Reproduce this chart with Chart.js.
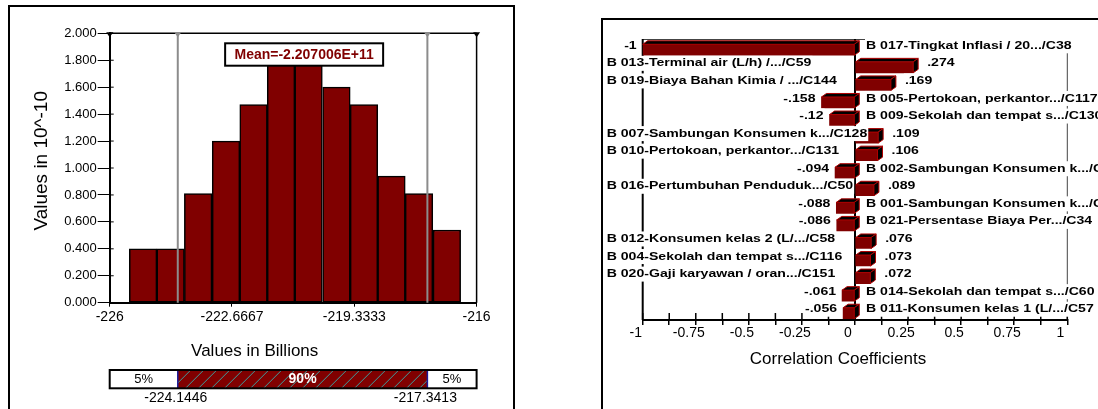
<!DOCTYPE html>
<html><head><meta charset="utf-8">
<script src="https://cdn.jsdelivr.net/npm/chart.js@4/dist/chart.umd.min.js"></script>
<style>
html,body{margin:0;padding:0;background:#fff;overflow:hidden;width:1098px;height:409px;}
.frame{position:absolute;border:2px solid #000;box-sizing:border-box;}
.wrap{position:absolute;top:0;height:409px;}
</style></head><body>
<div class="frame" style="left:8px;top:5px;width:507px;height:430px"></div>
<div class="frame" style="left:601px;top:18px;width:600px;height:430px"></div>
<div class="wrap" style="left:0;width:520px"><canvas id="hist"></canvas></div>
<div class="wrap" style="left:520px;width:578px"><canvas id="torn"></canvas></div>
<script>
// ---------- Histogram data ----------
const binCenters = [-225.09, -224.34, -223.59, -222.83, -222.08, -221.33, -220.58, -219.82, -219.07, -218.32, -217.57, -216.81];
const binDensity = [0.40, 0.40, 0.81, 1.20, 1.47, 1.80, 1.79, 1.60, 1.47, 0.94, 0.81, 0.54];
const histTickValues = [-226, -222.6667, -219.3333, -216];
const histTickLabels = ['-226', '-222.6667', '-219.3333', '-216'];
const pctValues = [-224.1446, -217.3413];
const pctLabels = ['-224.1446', '-217.3413'];
const bandLabels = ['5%', '90%', '5%'];
const meanValue = -220.7006;
const meanLabel = 'Mean=-2.207006E+11';
const histXTitle = 'Values in Billions';
const histYTitle = 'Values in 10^-10';

// ---------- Tornado data ----------
const tornadoNames = [
  'B 017-Tingkat Inflasi / 20.../C38',
  'B 013-Terminal air (L/h) /.../C59',
  'B 019-Biaya Bahan Kimia / .../C144',
  'B 005-Pertokoan, perkantor.../C117',
  'B 009-Sekolah dan tempat s.../C130',
  'B 007-Sambungan Konsumen k.../C128',
  'B 010-Pertokoan, perkantor.../C131',
  'B 002-Sambungan Konsumen k.../C114',
  'B 016-Pertumbuhan Penduduk.../C50',
  'B 001-Sambungan Konsumen k.../C113',
  'B 021-Persentase Biaya Per.../C34',
  'B 012-Konsumen kelas 2 (L/.../C58',
  'B 004-Sekolah dan tempat s.../C116',
  'B 020-Gaji karyawan / oran.../C151',
  'B 014-Sekolah dan tempat s.../C60',
  'B 011-Konsumen kelas 1 (L/.../C57'
];
const tornadoValues = [-1, 0.274, 0.169, -0.158, -0.12, 0.109, 0.106, -0.094, 0.089, -0.088, -0.086, 0.076, 0.073, 0.072, -0.061, -0.056];
const corrTickValues = [-1, -0.75, -0.5, -0.25, 0, 0.25, 0.5, 0.75, 1];
const corrTickLabels = ['-1', '-0.75', '-0.5', '-0.25', '0', '0.25', '0.5', '0.75', '1'];
const corrTitle = 'Correlation Coefficients';

const FAM = "'Liberation Sans', Arial, sans-serif";
Chart.defaults.font.family = FAM;
Chart.defaults.color = '#000';

function sText(ctx, text, x, y, align, font, sx, color, bg) {
  ctx.save();
  ctx.font = font;
  const w = ctx.measureText(text).width * sx;
  const left = align === 'left' ? x : (align === 'right' ? x - w : x - w / 2);
  if (bg) { ctx.fillStyle = bg; ctx.fillRect(left - 1, y - 7.5, w + 2, 15); }
  ctx.translate(left, y);
  ctx.scale(sx, 1);
  ctx.fillStyle = color;
  ctx.textBaseline = 'middle';
  ctx.textAlign = 'left';
  ctx.fillText(text, 0, 0);
  ctx.restore();
  return w;
}
function seg(ctx, x1, y1, x2, y2) { ctx.beginPath(); ctx.moveTo(x1, y1); ctx.lineTo(x2, y2); ctx.stroke(); }
function tri(ctx, x, y, color) {
  ctx.fillStyle = color;
  ctx.beginPath(); ctx.moveTo(x - 3.5, y - 1); ctx.lineTo(x + 3.5, y - 1); ctx.lineTo(x, y + 4); ctx.closePath(); ctx.fill();
}

const histPlugin = {
  id: 'histExtras',
  afterDatasetsDraw(chart) {
    const { ctx, chartArea: a, scales: { x, y } } = chart;
    ctx.save();
    ctx.strokeStyle = '#000'; ctx.lineWidth = 1;
    y.ticks.forEach(t => { const py = y.getPixelForValue(t.value); seg(ctx, a.left, py, a.left + 4, py); });
    ctx.lineWidth = 1.5;
    seg(ctx, a.left, a.top, a.right, a.top);
    seg(ctx, a.right, a.top, a.right, a.bottom);
    const p5 = x.getPixelForValue(pctValues[0]), p95 = x.getPixelForValue(pctValues[1]);
    ctx.strokeStyle = '#8c8c8c'; ctx.lineWidth = 2;
    seg(ctx, p5, a.top, p5, a.bottom);
    seg(ctx, p95, a.top, p95, a.bottom);
    tri(ctx, a.left, a.top, '#000'); tri(ctx, a.right, a.top, '#000');
    tri(ctx, p5, a.top, '#8c8c8c'); tri(ctx, p95, a.top, '#8c8c8c');
    const mx = x.getPixelForValue(meanValue);
    const bw = 158, bh = 22.4, by = 43.3;
    ctx.fillStyle = '#fff'; ctx.fillRect(mx - bw / 2, by, bw, bh);
    ctx.strokeStyle = '#000'; ctx.lineWidth = 2; ctx.strokeRect(mx - bw / 2, by, bw, bh);
    sText(ctx, meanLabel, mx, by + bh / 2 + 0.5, 'center', 'bold 14px ' + FAM, 1, '#800000');
    ctx.restore();
  },
  afterDraw(chart) {
    const { ctx, chartArea: a, scales: { x } } = chart;
    ctx.save();
    sText(ctx, histXTitle, a.left + 145, 351.7, 'center', '17px ' + FAM, 1, '#000');
    ctx.save();
    ctx.translate(41.4, 160.8); ctx.rotate(-Math.PI / 2);
    sText(ctx, histYTitle, 0, 0, 'center', '19px ' + FAM, 1, '#000');
    ctx.restore();
    const top = 370, h = 18.3, bot = top + h;
    const x0 = x.getPixelForValue(x.min), x1 = x.getPixelForValue(pctValues[0]);
    const x2 = x.getPixelForValue(pctValues[1]), x3 = x.getPixelForValue(x.max);
    ctx.fillStyle = '#fff'; ctx.fillRect(x0, top, x3 - x0, h);
    ctx.fillStyle = '#800000'; ctx.fillRect(x1, top, x2 - x1, h);
    ctx.save();
    ctx.beginPath(); ctx.rect(x1, top, x2 - x1, h); ctx.clip();
    ctx.strokeStyle = '#3c9c9c'; ctx.lineWidth = 1;
    for (let sx = x1 - h; sx < x2 + h; sx += 13) seg(ctx, sx, bot, sx + h, top);
    ctx.restore();
    ctx.strokeStyle = '#1a1a9a'; ctx.lineWidth = 1.5;
    seg(ctx, x1, top, x1, bot); seg(ctx, x2, top, x2, bot);
    ctx.strokeStyle = '#000'; ctx.lineWidth = 2; ctx.strokeRect(x0, top, x3 - x0, h);
    const bf = '13px ' + FAM;
    sText(ctx, bandLabels[0], (x0 + x1) / 2, top + h / 2, 'center', bf, 1, '#000');
    sText(ctx, bandLabels[1], (x1 + x2) / 2, top + h / 2, 'center', 'bold 14px ' + FAM, 1, '#fff');
    sText(ctx, bandLabels[2], (x2 + x3) / 2, top + h / 2, 'center', bf, 1, '#000');
    sText(ctx, pctLabels[0], x1 - 2, 398.3, 'center', '14px ' + FAM, 1, '#000');
    sText(ctx, pctLabels[1], x2 - 2, 398.3, 'center', '14px ' + FAM, 1, '#000');
    ctx.restore();
  }
};

new Chart(document.getElementById('hist'), {
  type: 'bar',
  data: {
    datasets: [{
      data: binCenters.map((c, i) => ({ x: c, y: binDensity[i] })),
      backgroundColor: '#800000', borderColor: '#000', borderWidth: 1.5,
      borderSkipped: false, barPercentage: 1, categoryPercentage: 1
    }]
  },
  options: {
    responsive: true, maintainAspectRatio: false, animation: false, events: [],
    layout: { padding: { left: 0, top: 33.3, right: 43.4, bottom: 0 } },
    plugins: { legend: { display: false }, tooltip: { enabled: false } },
    scales: {
      x: {
        type: 'linear', min: -226, max: -216, offset: false,
        afterBuildTicks: s => { s.ticks = histTickValues.map(v => ({ value: v })); },
        afterFit: s => { s.height = 106.3; },
        ticks: { autoSkip: false, maxRotation: 0, padding: 2, font: { size: 14 }, color: '#000',
                 callback: (v, i) => histTickLabels[i] },
        grid: { offset: false, drawOnChartArea: false, tickLength: 4, color: '#000', lineWidth: 1 },
        border: { color: '#000', width: 2 }
      },
      y: {
        min: 0, max: 2,
        afterFit: s => { s.width = 109.7; },
        ticks: { stepSize: 0.2, padding: 1, font: { size: 13 }, color: '#000', callback: v => Number(v).toFixed(3) },
        grid: { drawOnChartArea: false, tickLength: 12, color: '#000', lineWidth: 1 },
        border: { color: '#000', width: 2 }
      }
    }
  },
  plugins: [histPlugin]
});

// ---------- Tornado ----------
const DX = 5, DY = 3.5, SHIFT = 2;
const tornPlugin = {
  id: 'tornExtras',
  beforeDatasetsDraw(chart) {
    const { ctx, chartArea: a, scales: { x } } = chart;
    ctx.save();
    ctx.strokeStyle = '#444'; ctx.lineWidth = 1;
    seg(ctx, a.left, a.top + 0.5, a.right, a.top + 0.5);
    seg(ctx, a.right, a.top, a.right, a.bottom);
    ctx.strokeStyle = '#000'; ctx.lineWidth = 2;
    seg(ctx, a.left, a.top, a.left, a.bottom);
    const zx = x.getPixelForValue(0);
    seg(ctx, zx, a.top, zx, a.bottom);
    ctx.lineWidth = 1.5;
    x.ticks.forEach(t => { const px = x.getPixelForValue(t.value); seg(ctx, px, a.bottom - 7, px, a.bottom); });
    ctx.restore();
  },
  beforeDatasetDraw(chart) { chart.ctx.save(); chart.ctx.translate(0, SHIFT); },
  afterDatasetDraw(chart) {
    const ctx = chart.ctx;
    const meta = chart.getDatasetMeta(0);
    meta.data.forEach(bar => {
      const { x, y, base, height } = bar.getProps(['x', 'y', 'base', 'height'], true);
      const l = Math.min(x, base), r = Math.max(x, base), t = y - height / 2;
      ctx.fillStyle = '#000'; ctx.strokeStyle = '#b00000'; ctx.lineWidth = 1;
      ctx.beginPath(); ctx.moveTo(l, t); ctx.lineTo(l + DX, t - DY); ctx.lineTo(r + DX, t - DY); ctx.lineTo(r, t); ctx.closePath();
      ctx.fill(); ctx.stroke();
      ctx.beginPath(); ctx.moveTo(r, t); ctx.lineTo(r + DX, t - DY); ctx.lineTo(r + DX, t - DY + height); ctx.lineTo(r, t + height); ctx.closePath();
      ctx.fill(); ctx.stroke();
    });
    ctx.restore();
  },
  afterDatasetsDraw(chart) {
    const { ctx, chartArea: a, scales: { x } } = chart;
    const meta = chart.getDatasetMeta(0);
    const zx = x.getPixelForValue(0);
    const f = 'bold 11px ' + FAM, sx = 1.28;
    meta.data.forEach((bar, i) => {
      const v = tornadoValues[i];
      const { x: bx, y } = bar.getProps(['x', 'y'], true);
      const ty = y - 2;
      const vt = String(v).replace('0.', '.');
      if (v >= 0) {
        sText(ctx, tornadoNames[i], a.left - 36, ty, 'left', f, sx, '#000', '#fff');
        sText(ctx, vt, bx + 14, ty, 'left', f, sx, '#000', '#fff');
      } else {
        sText(ctx, vt, bx - 6, ty, 'right', f, sx, '#000', '#fff');
        sText(ctx, tornadoNames[i], zx + 11, ty, 'left', f, sx, '#000', '#fff');
      }
    });
  },
  afterDraw(chart) {
    const { ctx, chartArea: a } = chart;
    sText(ctx, corrTitle, (a.left + a.right) / 2 - 17, 359, 'center', '17px ' + FAM, 1, '#000');
  }
};

new Chart(document.getElementById('torn'), {
  type: 'bar',
  data: {
    labels: tornadoNames,
    datasets: [{ data: tornadoValues, backgroundColor: '#800000', borderColor: '#9a0000', borderWidth: 0, barThickness: 11 }]
  },
  options: {
    indexAxis: 'y',
    responsive: true, maintainAspectRatio: false, animation: false, events: [],
    layout: { padding: { left: 0, top: 39, right: 30.7, bottom: 0 } },
    plugins: { legend: { display: false }, tooltip: { enabled: false } },
    scales: {
      x: {
        type: 'linear', min: -1, max: 1,
        afterFit: s => { s.height = 89; },
        ticks: {
          stepSize: 0.125, autoSkip: false, maxRotation: 0, labelOffset: -7, padding: 0,
          font: { size: 14 }, color: '#000',
          callback: v => { const k = corrTickValues.findIndex(t => Math.abs(t - v) < 1e-9); return k >= 0 ? corrTickLabels[k] : ''; }
        },
        grid: { drawOnChartArea: false, tickLength: 5, color: '#000', lineWidth: 1.5 },
        border: { color: '#000', width: 2 }
      },
      y: {
        type: 'category',
        afterFit: s => { s.width = 122.7; },
        ticks: { display: false },
        grid: { display: false },
        border: { display: false }
      }
    }
  },
  plugins: [tornPlugin]
});
</script>
</body></html>
